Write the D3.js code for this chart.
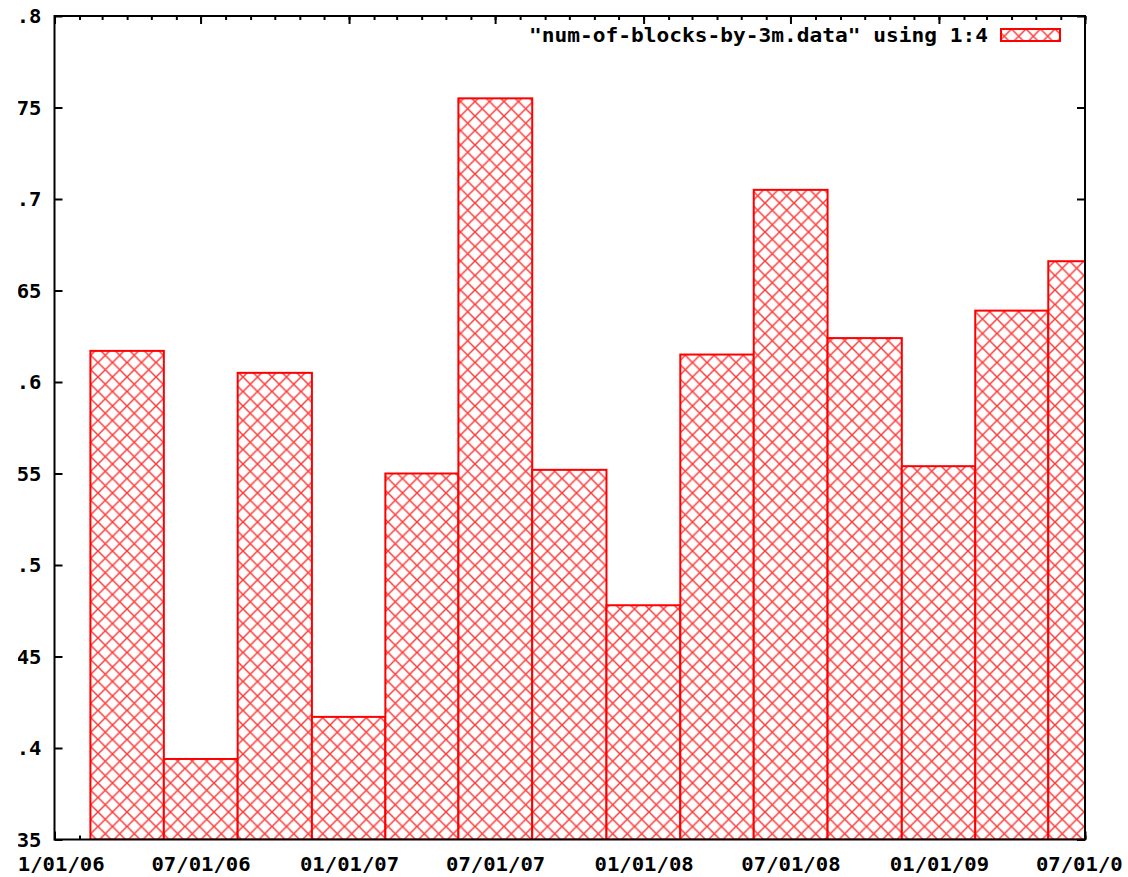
<!DOCTYPE html>
<html>
<head>
<meta charset="utf-8">
<script src="https://cdn.jsdelivr.net/npm/d3@7"></script>
<style>
  html, body { margin: 0; padding: 0; background: #fff; }
  svg { display: block; }
  text { font-family: "DejaVu Sans Mono", "Liberation Mono", monospace; font-weight: bold; fill: #000; }
</style>
</head>
<body>
<script>
// ---- data ----
const periods = ["2006-04-01","2006-07-01","2006-10-01","2007-01-01","2007-04-01","2007-07-01","2007-10-01",
                 "2008-01-01","2008-04-01","2008-07-01","2008-10-01","2009-01-01","2009-04-01","2009-07-01"];
const values = [0.617, 0.394, 0.605, 0.417, 0.550, 0.755, 0.552, 0.478, 0.615, 0.705, 0.624, 0.554, 0.639, 0.666];
const xTickDates = ["2006-01-01","2006-07-01","2007-01-01","2007-07-01","2008-01-01","2008-07-01","2009-01-01","2009-07-01"];
const yTicks = [0.35, 0.4, 0.45, 0.5, 0.55, 0.6, 0.65, 0.7, 0.75, 0.8];
const yTickLabels = ["0.35", "0.4", "0.45", "0.5", "0.55", "0.6", "0.65", "0.7", "0.75", "0.8"];
const xDomain = ["2006-01-01", "2009-07-01"];
const yDomain = [0.35, 0.8];
const legendLabel = '"num-of-blocks-by-3m.data" using 1:4';

// ---- layout ----
const W = 1128, H = 877;
const L = 54.5, R = 1085, T = 16, B = 839.5;
const red = "#ff0000";

const svg = d3.select("body").append("svg").attr("width", W).attr("height", H);
const defs = svg.append("defs");

// crosshatch pattern
const P = 14.5;
const pat = defs.append("pattern").attr("id", "hatch").attr("patternUnits", "userSpaceOnUse")
  .attr("width", P).attr("height", P).attr("x", L).attr("y", 0);
pat.append("rect").attr("width", P).attr("height", P).attr("fill", "#fff");
pat.append("path").attr("d", `M0,0L${P},${P}M${P},0L0,${P}M-1,${P-1}L1,${P+1}M${P-1},-1L${P+1},1M-1,1L1,-1M${P-1},${P+1}L${P+1},${P-1}`)
  .attr("stroke", "#ff3a3a").attr("stroke-width", 1.5).attr("fill", "none");

defs.append("clipPath").attr("id", "plotclip").append("rect")
  .attr("x", L).attr("y", T).attr("width", R - L).attr("height", B - T);
defs.append("clipPath").attr("id", "pageclip").append("rect")
  .attr("x", 18).attr("y", 0).attr("width", 1122 - 18).attr("height", H);

const parse = d3.utcParse("%Y-%m-%d");
const x = d3.scaleUtc().domain(xDomain.map(parse)).range([L, R]);
const y = d3.scaleLinear().domain(yDomain).range([B, T]);
const fmt = d3.utcFormat("%m/%d/%y");

const root = svg.append("g").attr("clip-path", "url(#pageclip)");

// minor monthly ticks (bottom & top)
const months = d3.utcMonth.range(parse(xDomain[0]), d3.utcDay.offset(parse(xDomain[1]), 1));
const minorB = root.append("g").attr("transform", `translate(0,${B})`)
  .call(d3.axisBottom(x).tickValues(months).tickSize(-4).tickFormat(""));
const minorT = root.append("g").attr("transform", `translate(0,${T})`)
  .call(d3.axisTop(x).tickValues(months).tickSize(-4).tickFormat(""));

// major x ticks
const xMajor = xTickDates.map(parse);
const xAxisB = root.append("g").attr("transform", `translate(0,${B})`)
  .call(d3.axisBottom(x).tickValues(xMajor).tickSize(-8).tickPadding(17).tickFormat(fmt));
const xAxisT = root.append("g").attr("transform", `translate(0,${T})`)
  .call(d3.axisTop(x).tickValues(xMajor).tickSize(-8).tickFormat(""));

// y ticks
const yLabel = d => yTickLabels[yTicks.indexOf(d)];
const yAxisL = root.append("g").attr("transform", `translate(${L},0)`)
  .call(d3.axisLeft(y).tickValues(yTicks).tickSize(-8).tickPadding(14).tickFormat(yLabel));
const yAxisR = root.append("g").attr("transform", `translate(${R},0)`)
  .call(d3.axisRight(y).tickValues(yTicks).tickSize(-8).tickFormat(""));

[minorB, minorT, xAxisB, xAxisT, yAxisL, yAxisR].forEach(g => {
  g.select(".domain").remove();
  g.selectAll(".tick line").attr("stroke", "#000").attr("stroke-width", 2);
});
xAxisB.selectAll(".tick text")
  .attr("font-size", 19).attr("font-family", '"DejaVu Sans Mono", monospace').attr("font-weight", "bold")
  .attr("textLength", d => fmt(d).length * 12.4).attr("lengthAdjust", "spacingAndGlyphs")
  .attr("dy", "0.71em").attr("y", 18);
yAxisL.selectAll(".tick text")
  .attr("font-size", 19).attr("font-family", '"DejaVu Sans Mono", monospace').attr("font-weight", "bold")
  .attr("textLength", d => yLabel(d).length * 12.4).attr("lengthAdjust", "spacingAndGlyphs")
  .attr("dy", "0.36em").attr("x", -13);

// bars (boxes centered on dates, touching neighbours)
const centers = periods.map(parse);
const edges = centers.map((c, i) => {
  const prev = i > 0 ? centers[i - 1] : null;
  const next = i < centers.length - 1 ? centers[i + 1] : null;
  const half = next ? (next - c) / 2 : (c - prev) / 2;
  const halfL = prev ? (c - prev) / 2 : half;
  return [new Date(+c - halfL), new Date(+c + half)];
});
const bars = root.append("g").attr("clip-path", "url(#plotclip)");
bars.selectAll("rect").data(values).join("rect")
  .attr("x", (d, i) => x(edges[i][0]))
  .attr("width", (d, i) => x(edges[i][1]) - x(edges[i][0]))
  .attr("y", d => y(d))
  .attr("height", d => B - y(d))
  .attr("fill", "url(#hatch)")
  .attr("stroke", red).attr("stroke-width", 2);

// border
root.append("rect").attr("x", L).attr("y", T).attr("width", R - L).attr("height", B - T)
  .attr("fill", "none").attr("stroke", "#000").attr("stroke-width", 2);

// legend
root.append("text").attr("x", 988).attr("y", 35).attr("dy", "0.36em")
  .attr("text-anchor", "end").attr("font-size", 19)
  .attr("textLength", legendLabel.length * 12.75).attr("lengthAdjust", "spacingAndGlyphs")
  .text(legendLabel);
root.append("rect").attr("x", 1001).attr("y", 29).attr("width", 59).attr("height", 12)
  .attr("fill", "url(#hatch)").attr("stroke", red).attr("stroke-width", 2);
</script>
</body>
</html>
